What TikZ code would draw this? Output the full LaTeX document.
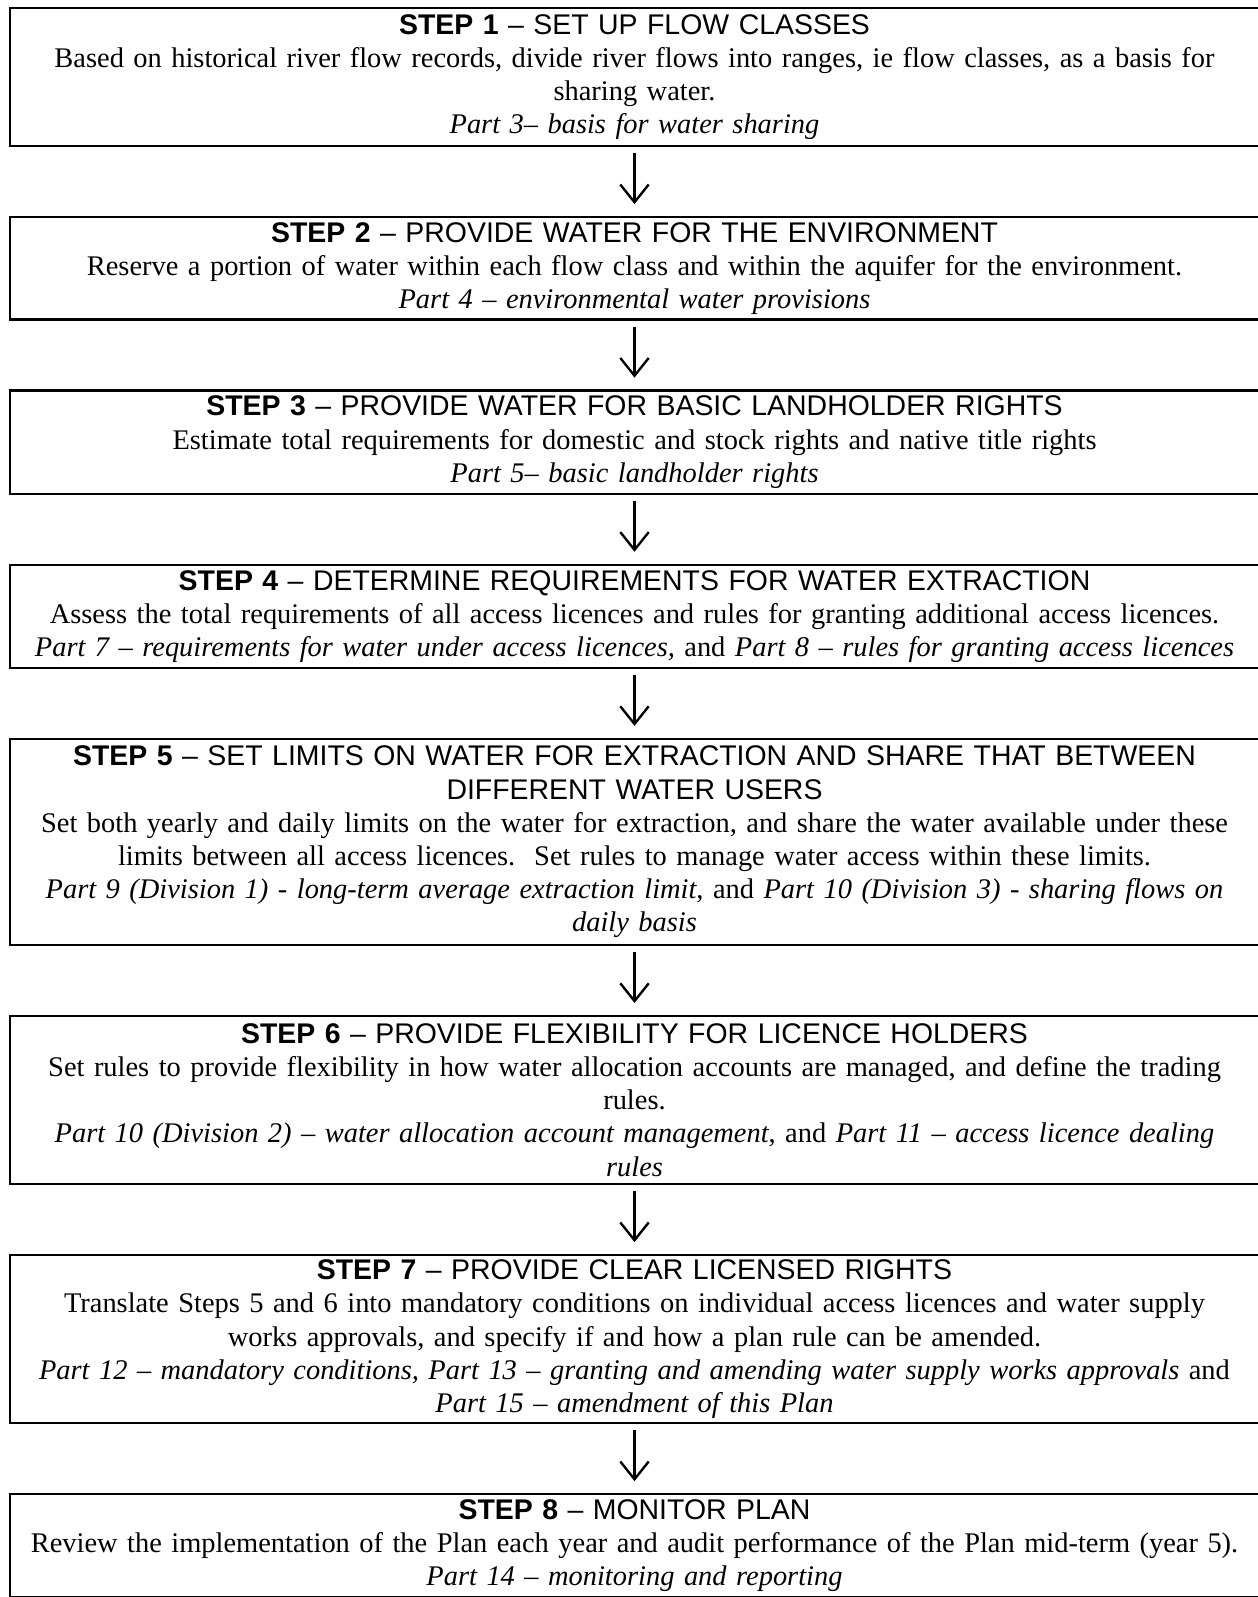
\documentclass[tikz,border=0pt]{standalone}
\usepackage{fontspec}
\setmainfont{Liberation Serif}
\newfontfamily\arialfont{Liberation Sans}
\usetikzlibrary{positioning,arrows.meta}
\newcommand{\steptitle}[2]{{\arialfont\textbf{STEP #1} – #2}}

\begin{document}
\begin{tikzpicture}[x=0.422pt,y=0.422pt,node distance=29pt,
  stepbox/.style={draw,line width=1pt,text width=521pt,align=center,inner xsep=3pt,inner ysep=0pt,
    minimum height=#1,font=\fontsize{12}{14}\selectfont},
  ar/.style={-{Straight Barb[length=7.5pt,width=12pt]},line width=1pt,shorten <=2.5pt,shorten >=5pt}]
  \useasboundingbox (0,0) rectangle (1257,-1597);
  \node[stepbox=58.2pt,anchor=north](s1) at (634.5,-7)
    {\steptitle{1}{SET UP FLOW CLASSES}\\
     Based on historical river flow records, divide river flows into ranges, ie flow classes, as a basis for\\
     sharing water.\\
     \textit{Part 3– basis for water sharing}};
  \node[stepbox=43.2pt,below=of s1](s2)
    {\steptitle{2}{PROVIDE WATER FOR THE ENVIRONMENT}\\
     Reserve a portion of water within each flow class and within the aquifer for the environment.\\
     \textit{Part 4 – environmental water provisions}};
  \node[stepbox=43.5pt,below=of s2](s3)
    {\steptitle{3}{PROVIDE WATER FOR BASIC LANDHOLDER RIGHTS}\\
     Estimate total requirements for domestic and stock rights and native title rights\\
     \textit{Part 5– basic landholder rights}};
  \node[stepbox=43.5pt,below=of s3](s4)
    {\steptitle{4}{DETERMINE REQUIREMENTS FOR WATER EXTRACTION}\\
     Assess the total requirements of all access licences and rules for granting additional access licences.\\
     \textit{Part 7 – requirements for water under access licences,} and \textit{Part 8 – rules for granting access licences}};
  \node[stepbox=86.9pt,below=of s4](s5)
    {\steptitle{5}{SET LIMITS ON WATER FOR EXTRACTION AND SHARE THAT BETWEEN}\\
     {\arialfont DIFFERENT WATER USERS}\\
     Set both yearly and daily limits on the water for extraction, and share the water available under these\\
     limits between all access licences.\ \ Set rules to manage water access within these limits.\\
     \textit{Part 9 (Division 1) - long-term average extraction limit}, and \textit{Part 10 (Division 3) - sharing flows on}\\
     \textit{daily basis}};
  \node[stepbox=70.9pt,below=of s5](s6)
    {\steptitle{6}{PROVIDE FLEXIBILITY FOR LICENCE HOLDERS}\\
     Set rules to provide flexibility in how water allocation accounts are managed, and define the trading\\
     rules.\\
     \textit{Part 10 (Division 2) – water allocation account management}, and \textit{Part 11 – access licence dealing}\\
     \textit{rules}};
  \node[stepbox=70.9pt,below=of s6](s7)
    {\steptitle{7}{PROVIDE CLEAR LICENSED RIGHTS}\\
     Translate Steps 5 and 6 into mandatory conditions on individual access licences and water supply\\
     works approvals, and specify if and how a plan rule can be amended.\\
     \textit{Part 12 – mandatory conditions, Part 13 – granting and amending water supply works approvals} and\\
     \textit{Part 15 – amendment of this Plan}};
  \node[stepbox=43.5pt,below=of s7](s8)
    {\steptitle{8}{MONITOR PLAN}\\
     Review the implementation of the Plan each year and audit performance of the Plan mid-term (year 5).\\
     \textit{Part 14 – monitoring and reporting}};
  \foreach \a/\b in {s1/s2,s2/s3,s3/s4,s4/s5,s5/s6,s6/s7,s7/s8}
    \draw[ar](\a)--(\b);
\end{tikzpicture}
\end{document}
